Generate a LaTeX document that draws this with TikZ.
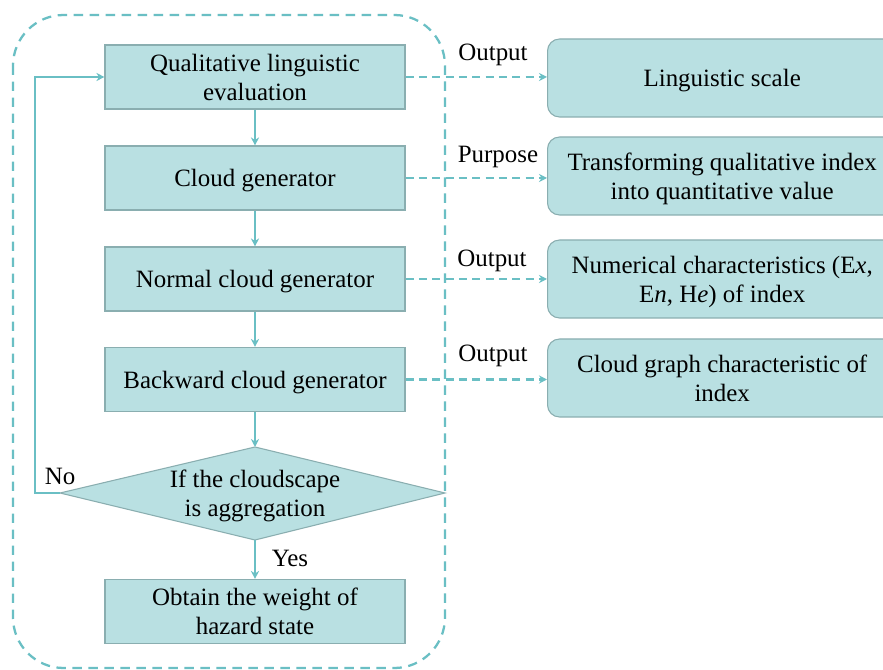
\documentclass[tikz,border=0pt]{standalone}
\usepackage{fontspec}
\setmainfont{Liberation Serif}
\usetikzlibrary{arrows.meta}
\definecolor{boxfill}{HTML}{B9E0E2}
\definecolor{boxline}{HTML}{8AAEB0}
\definecolor{teal}{HTML}{6ABFC4}
\newcommand\lw[1]{\raisebox{-2.2pt}[\height][\depth]{\begin{tabular}{@{}c@{}}#1\end{tabular}}}
\tikzset{
  txt/.style={font=\fontsize{18.7}{21.8}\selectfont, text=black},
  stepbox/.style={txt, draw=boxline, fill=boxfill, line width=0.8pt, minimum width=225pt, minimum height=48pt, align=center, inner sep=0pt},
  resbox/.style={txt, draw=boxline, fill=boxfill, line width=0.8pt, rounded corners=9pt, minimum width=262pt, minimum height=58.5pt, align=center, inner sep=0pt, anchor=west},
  flow/.style={draw=teal, line width=1.7pt, -{Stealth[length=6pt,width=6pt]}},
  dflow/.style={draw=teal, line width=1.7pt, dash pattern=on 6pt off 4pt, -{Stealth[length=6pt,width=6pt]}},
  lab/.style={txt, inner sep=0pt}
}
\begin{document}
\begin{tikzpicture}[x=0.75pt,y=-0.75pt]
\clip (0,0) rectangle (883,670);
\fill[white] (0,0) rectangle (883,670);
% dashed frame
\draw[teal, line width=1.7pt, dash pattern=on 7pt off 5pt, rounded corners=38pt] (13,15) rectangle (445,668);
% left column
\node[stepbox] (q) at (255,77) {\lw{Qualitative linguistic\\evaluation}};
\node[stepbox] (cg) at (255,178) {\lw{Cloud generator}};
\node[stepbox] (ncg) at (255,279) {\lw{Normal cloud generator}};
\node[stepbox] (bcg) at (255,379.5) {\lw{Backward cloud generator}};
\coordinate (dt) at (255,447);
\coordinate (dl) at (60,493);
\coordinate (dr) at (445,493);
\coordinate (db) at (255,540);
\fill[boxfill] (dt) -- (dr) -- (db) -- (dl) -- cycle;
\draw[boxline, line width=0.8pt] (dt) -- (dr) -- (db) -- (dl) -- cycle;
\node[lab, align=center] (dec) at (255,493) {\lw{If the cloudscape\\is aggregation}};
\node[stepbox] (ob) at (255,611.5) {\lw{Obtain the weight of\\hazard state}};
% flow
\draw[flow] (q) -- (cg);
\draw[flow] (cg) -- (ncg);
\draw[flow] (ncg) -- (bcg);
\draw[flow] (bcg) -- (dt);
\draw[flow] (db) -- (ob);
\coordinate (lc) at (35,493);
\coordinate (lt) at (35,77);
\draw[flow] (dl) -- (lc) -- (lt) -- (q.west);
\node[lab] (no) at (60,476) {No};
\node[lab] (yes) at (290,558) {Yes};
% right column
\node[resbox] (r1) at (547,78) {\lw{Linguistic scale}};
\node[resbox] (r2) at (547,176) {\lw{Transforming qualitative index\\into quantitative value}};
\node[resbox] (r3) at (547,279) {\lw{Numerical characteristics (E\textit{x},\\E\textit{n}, H\textit{e}) of index}};
\node[resbox] (r4) at (547,378) {\lw{Cloud graph characteristic of\\index}};
\draw[dflow] (q.east) -- (q.east -| r1.west);
\draw[dflow] (cg.east) -- (cg.east -| r2.west);
\draw[dflow] (ncg.east) -- (ncg.east -| r3.west);
\draw[dflow] (bcg.east) -- (bcg.east -| r4.west);
\node[lab] (o1) at (493,55) {Output};
\node[lab] (p2) at (498,157) {Purpose};
\node[lab] (o3) at (492,261) {Output};
\node[lab] (o4) at (493,356) {Output};
\end{tikzpicture}
\end{document}
